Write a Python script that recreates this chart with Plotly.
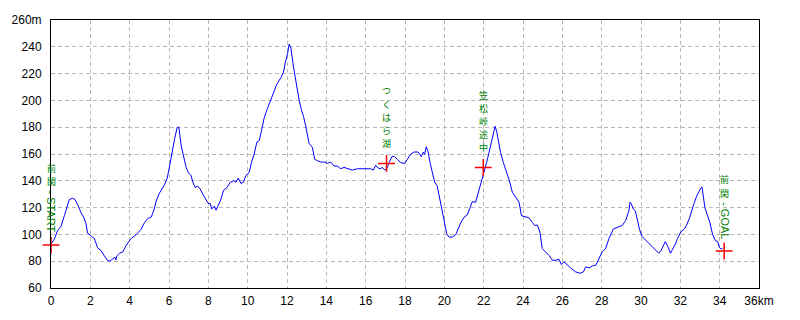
import plotly.graph_objects as go

# ---- data ----
dist_km = [0.0, 0.17, 0.34, 0.51, 0.68, 0.81, 0.93, 1.1, 1.22, 1.36, 1.53, 1.66, 1.78, 1.86, 2.0, 2.2,
           2.37, 2.54, 2.71, 2.88, 3.0, 3.16, 3.25, 3.3, 3.35, 3.49, 3.66, 3.83, 4.08, 4.34, 4.59, 4.76,
           4.93, 5.1, 5.23, 5.35, 5.52, 5.77, 5.91, 6.03, 6.15, 6.28, 6.42, 6.5, 6.62, 6.7, 6.87, 6.99,
           7.12, 7.21, 7.33, 7.46, 7.58, 7.72, 7.88, 8.0, 8.1, 8.17, 8.31, 8.39, 8.48, 8.61, 8.78, 8.95,
           9.12, 9.29, 9.41, 9.52, 9.66, 9.79, 9.91, 10.07, 10.2, 10.33, 10.47, 10.59, 10.71, 10.84,
           10.98, 11.15, 11.31, 11.48, 11.69, 11.82, 11.91, 12.03, 12.11, 12.2, 12.33, 12.45, 12.62,
           12.73, 12.84, 12.95, 13.12, 13.29, 13.41, 13.55, 13.72, 13.92, 14.05, 14.22, 14.39, 14.56,
           14.73, 14.9, 15.15, 15.32, 15.58, 15.92, 16.25, 16.39, 16.51, 16.59, 16.73, 16.85, 16.97,
           17.07, 17.19, 17.36, 17.47, 17.61, 17.78, 17.98, 18.12, 18.29, 18.46, 18.66, 18.76, 18.83,
           18.93, 19.0, 19.08, 19.17, 19.27, 19.39, 19.51, 19.64, 19.78, 19.9, 20.02, 20.12, 20.24,
           20.41, 20.58, 20.69, 20.83, 21.0, 21.17, 21.31, 21.42, 21.59, 21.71, 21.85, 21.93, 22.05,
           22.15, 22.27, 22.39, 22.49, 22.58, 22.66, 22.75, 22.86, 23.0, 23.12, 23.29, 23.46, 23.63,
           23.8, 23.92, 24.05, 24.31, 24.47, 24.59, 24.73, 24.86, 24.98, 25.15, 25.32, 25.49, 25.66,
           25.83, 25.95, 26.08, 26.25, 26.42, 26.68, 26.9, 27.07, 27.19, 27.36, 27.53, 27.7, 27.86,
           28.03, 28.2, 28.37, 28.59, 28.8, 29.05, 29.22, 29.39, 29.44, 29.5, 29.61, 29.71, 29.83,
           29.92, 30.05, 30.22, 30.39, 30.59, 30.76, 30.9, 31.02, 31.14, 31.24, 31.36, 31.5, 31.61,
           31.75, 31.86, 32.03, 32.2, 32.32, 32.46, 32.59, 32.71, 32.83, 32.97, 33.05, 33.1, 33.17,
           33.25, 33.39, 33.51, 33.64, 33.78, 33.9, 33.98, 34.07, 34.15]
elev_m = [93, 96.5, 103, 106, 114, 121, 126, 127, 126, 122, 116, 113, 108, 101, 99.5, 97,
          90, 88, 84, 80.5, 80, 81.5, 83, 81, 84, 86, 87, 92, 97, 100, 104, 109,
          112, 113, 118, 125, 131, 137, 142, 151, 161, 171, 180, 180, 166, 161, 150, 146,
          144, 139, 135, 136, 134, 130, 126, 123, 123, 119, 121, 118, 121, 125, 133, 135,
          139, 140, 139, 142, 138, 139, 144, 146, 154, 160, 169, 170, 178, 187,
          193, 199, 205, 212, 217, 221, 228, 235, 242, 239, 225, 214, 200,
          193, 188, 181, 168, 165, 156, 155, 154, 154, 153, 154, 151, 151,
          149, 150, 149, 148, 149, 149, 149, 148, 151.6, 150, 149, 150, 148,
          149, 153.6, 158.5, 158, 156, 153.6, 153, 156.5, 159.8, 161.5, 161.5, 159.8, 158,
          161.5, 159.8, 165.4, 162, 153.6, 146, 139, 136, 126, 116.5, 106.7, 100.5, 98,
          98, 99.8, 104, 108.6, 112.8, 114.6, 120, 124.4, 124, 130, 137.5, 141, 148.6,
          153.6, 161, 168.4, 174.6, 180.7, 177, 168.4, 161, 153.6, 148.6, 141, 131.4, 127.7,
          124, 114, 113.6, 112.3, 109, 106.7, 107, 101.7, 89.4, 87, 84.4, 80.7, 80.7,
          81.5, 77.5, 79.5, 77, 75, 72, 71, 72, 75.8, 75, 76.5, 77, 81.5,
          87, 89.4, 96.8, 104, 105.4, 106.7, 110.4, 117.8, 124, 123, 119, 117.5, 110,
          104, 98.5, 96, 93.6, 90.4, 88, 86, 88, 91.6, 94.6, 91, 86, 89,
          92.8, 97, 102, 104, 107, 112, 119, 123.7, 128.6, 133, 134.8, 135.5, 128.6,
          120, 113.8, 108.4, 100, 95.3, 94.6, 90.4, 89, 89.6]

wp_names = ["前閑 - START", "つくはら湖", "笠松峠途中", "前閑 - GOAL"]
wp_km = [0.0, 17.06, 21.98, 34.23]
wp_elev = [92, 153, 150, 87.6]

x_ticks = list(range(0, 37, 2))
x_ticktext = [str(v) for v in x_ticks[:-1]] + ["36km"]
y_ticks = list(range(60, 261, 20))
y_ticktext = [str(v) for v in y_ticks[:-1]] + ["260m"]

# ---- figure ----
fig = go.Figure()
fig.add_trace(go.Scatter(x=dist_km, y=elev_m, mode="lines",
                         line=dict(color="#0000ff", width=1), hoverinfo="skip"))
fig.add_trace(go.Scatter(x=wp_km, y=wp_elev, mode="markers", cliponaxis=False,
                         marker=dict(symbol="cross-thin", size=12,
                                     line=dict(color="#ff0000", width=1.5)),
                         hoverinfo="skip"))

GREEN = "#008000"
CJK_FONT = "Noto Sans CJK JP"
CJK_SIZE = 9
CJK_STEP = 13.2     # vertical pitch of stacked characters (px)
LAT_SIZE = 11


def tokens(name):
    """Split a label into upright CJK characters and rotated Latin runs (vertical writing)."""
    out = []
    lat = ""
    for ch in name:
        if ord(ch) < 128:
            lat += ch
        else:
            if lat.strip():
                out.append(("rot", lat.strip()))
            lat = ""
            out.append(("up", ch))
    if lat.strip():
        out.append(("rot", lat.strip()))
    return out


annotations = []
for name, xk, ye in zip(wp_names, wp_km, wp_elev):
    shift = 13  # gap above marker (px)
    for kind, t in reversed(tokens(name)):
        if kind == "up":
            annotations.append(dict(x=xk, y=ye, xref="x", yref="y", text=t,
                                    showarrow=False, borderpad=0,
                                    xanchor="center", yanchor="middle",
                                    yshift=shift + CJK_STEP / 2,
                                    font=dict(family=CJK_FONT, size=CJK_SIZE, color=GREEN)))
            shift += CJK_STEP
        else:
            h = 5.9 * len(t)
            annotations.append(dict(x=xk, y=ye, xref="x", yref="y", text=t, showarrow=False,
                                    textangle=90, xanchor="center", yanchor="middle",
                                    borderpad=0, yshift=shift + h / 2,
                                    font=dict(family="Liberation Sans", size=LAT_SIZE, color=GREEN)))
            shift += h + 3

fig.update_layout(
    width=800, height=320,
    margin=dict(l=50, r=41, t=20, b=30),
    paper_bgcolor="white", plot_bgcolor="white",
    showlegend=False,
    annotations=annotations,
    font=dict(family="Liberation Sans", size=12, color="black"),
)
fig.update_xaxes(range=[0, 36], tickvals=x_ticks, ticktext=x_ticktext,
                 showgrid=True, gridcolor="#b8b8b8", griddash="4px,3px", gridwidth=1,
                 showline=True, linecolor="black", linewidth=1, mirror=True,
                 ticks="", zeroline=False, ticklabelstandoff=2)
fig.update_yaxes(range=[60, 260], tickvals=y_ticks, ticktext=y_ticktext,
                 showgrid=True, gridcolor="#b8b8b8", griddash="4px,3px", gridwidth=1,
                 showline=True, linecolor="black", linewidth=1, mirror=True,
                 ticks="", zeroline=False, ticklabelstandoff=6)

fig.write_html("out.html")
